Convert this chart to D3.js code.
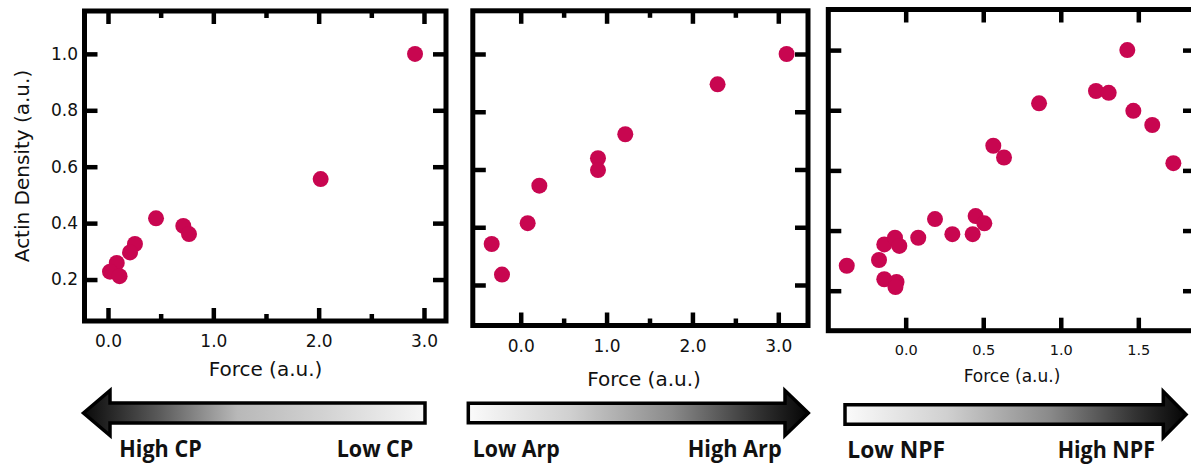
<!DOCTYPE html>
<html>
<head>
<meta charset="utf-8">
<script src="https://cdn.jsdelivr.net/npm/d3@7"></script>
<style>
  html, body { margin: 0; padding: 0; background: #fff; }
  svg { display: block; }
  .tick text { font-family: "DejaVu Sans", Verdana, sans-serif; fill: #111; }
</style>
</head>
<body>
<svg id="chart" width="1191" height="464"></svg>
<script>
// ---------- data ----------
const cpForce    = [2.915, 2.019, 0.456, 0.715, 0.769, 0.256, 0.209, 0.083, 0.019, 0.11];
const cpDensity  = [1.0, 0.556, 0.417, 0.390, 0.361, 0.326, 0.296, 0.259, 0.228, 0.212];

const arpForce   = [3.097, 2.293, 1.218, 0.9, 0.9, 0.217, 0.081, -0.338, -0.218];
const arpDensity = [1.0, 0.895, 0.722, 0.639, 0.598, 0.544, 0.414, 0.342, 0.236];

const npfForce   = [-0.380, -0.172, -0.138, -0.069, -0.041, -0.138, -0.059, -0.066, 0.081, 0.189,
                    0.301, 0.432, 0.451, 0.507, 0.565, 0.634, 0.860, 1.227, 1.309, 1.429,
                    1.468, 1.590, 1.726];
const npfDensity = [0.283, 0.302, 0.354, 0.376, 0.349, 0.238, 0.229, 0.212, 0.376, 0.438,
                    0.388, 0.388, 0.448, 0.424, 0.682, 0.643, 0.823, 0.864, 0.858, 1.0,
                    0.798, 0.751, 0.624];

const xTicks12   = [0, 1, 2, 3];
const xMinor12   = [0.5, 1.5, 2.5];
const xTicks3    = [0, 0.5, 1.0, 1.5];
const yTicks     = [0.2, 0.4, 0.6, 0.8, 1.0];

const yTitle = "Actin Density (a.u.)";
const xTitle = "Force (a.u.)";
const arrowLabels = [["High CP", "Low CP"], ["Low Arp", "High Arp"], ["Low NPF", "High NPF"]];

// ---------- drawing ----------
const svg = d3.select("#chart");
const dotColor = "#c80650";
const FONT = '"DejaVu Sans", Verdana, sans-serif';

const panels = [
  { fx: cpForce, fy: cpDensity, x0: 84.5, x1: 446, y0: 11, y1: 321,
    xd: [-0.2231, 3.209], yd: [0.053, 1.152], xt: xTicks12, xm: xMinor12, fmt: d3.format(".1f"),
    tickFont: 17, showY: true, title: { x: 265.5, y: 376, size: 20 } },
  { fx: arpForce, fy: arpDensity, x0: 472.8, x1: 808, y0: 10.8, y1: 325.5,
    xd: [-0.558, 3.346], yd: [0.0597, 1.1496], xt: xTicks12, xm: xMinor12, fmt: d3.format(".1f"),
    tickFont: 17, showY: false, title: { x: 644, y: 386, size: 20 } },
  { fx: npfForce, fy: npfDensity, x0: 828.3, x1: 1196, y0: 9.5, y1: 330.7,
    xd: [-0.499, 1.872], yd: [0.067, 1.135], xt: xTicks3, xm: [], fmt: d3.format(".1f"),
    tickFont: 14.5, showY: false, title: { x: 1012, y: 382, size: 17 } }
];

const TICK = 13, MINOR = 7, TW = 4.5, FW = 5;

panels.forEach((p, i) => {
  const x = d3.scaleLinear().domain(p.xd).range([p.x0, p.x1]);
  const y = d3.scaleLinear().domain(p.yd).range([p.y1, p.y0]);
  const g = svg.append("g");

  g.append("g").attr("transform", `translate(0,${p.y1})`)
    .call(d3.axisBottom(x).tickValues(p.xt).tickFormat(p.fmt).tickSize(-TICK).tickPadding(14));
  g.append("g").attr("transform", `translate(0,${p.y1})`)
    .call(d3.axisBottom(x).tickValues(p.xm).tickFormat("").tickSize(-MINOR));
  g.append("g").attr("transform", `translate(0,${p.y0})`)
    .call(d3.axisTop(x).tickValues(p.xt).tickFormat("").tickSize(-TICK));
  g.append("g").attr("transform", `translate(0,${p.y0})`)
    .call(d3.axisTop(x).tickValues(p.xm).tickFormat("").tickSize(-MINOR));
  g.append("g").attr("transform", `translate(${p.x0},0)`)
    .call(d3.axisLeft(y).tickValues(yTicks).tickFormat(p.showY ? d3.format(".1f") : "")
      .tickSize(-TICK).tickPadding(6.5));
  g.append("g").attr("transform", `translate(${p.x1},0)`)
    .call(d3.axisRight(y).tickValues(yTicks).tickFormat("").tickSize(-TICK));

  g.selectAll(".domain").remove();
  g.selectAll(".tick line").attr("stroke", "#000").attr("stroke-width", TW);
  g.selectAll(".tick text").attr("font-size", p.tickFont).attr("fill", "#111");

  g.append("rect")
    .attr("x", p.x0).attr("y", p.y0)
    .attr("width", p.x1 - p.x0).attr("height", p.y1 - p.y0)
    .attr("fill", "none").attr("stroke", "#000").attr("stroke-width", FW);

  g.append("g").selectAll("circle")
    .data(p.fx.map((v, k) => [v, p.fy[k]]))
    .join("circle")
    .attr("cx", d => x(d[0])).attr("cy", d => y(d[1]))
    .attr("r", 8).attr("fill", dotColor);

  g.append("text").attr("x", p.title.x).attr("y", p.title.y)
    .attr("text-anchor", "middle").attr("font-family", FONT)
    .attr("font-size", p.title.size).attr("fill", "#111").text(xTitle);
});

svg.append("text")
  .attr("transform", "translate(29,166) rotate(-90)")
  .attr("text-anchor", "middle").attr("font-family", FONT)
  .attr("font-size", 20).attr("fill", "#111").text(yTitle);

// ---------- arrows ----------
const defs = svg.append("defs");
function grad(id, x1, x2, stops) {
  const lg = defs.append("linearGradient").attr("id", id)
    .attr("gradientUnits", "userSpaceOnUse")
    .attr("x1", x1).attr("x2", x2).attr("y1", 0).attr("y2", 0);
  stops.forEach(s => lg.append("stop").attr("offset", s[0]).attr("stop-color", s[1]));
}
grad("g1", 84, 425, [[0, "#0a0a0a"], [0.22, "#5a5a5a"], [0.45, "#b8b8b8"], [0.7, "#d2d2d2"], [1, "#f6f6f6"]]);
grad("g2", 468, 808, [[0, "#fbfbfb"], [0.3, "#d0d0d0"], [0.6, "#8a8a8a"], [0.85, "#333"], [1, "#050505"]]);
grad("g3", 845, 1186, [[0, "#fbfbfb"], [0.3, "#d0d0d0"], [0.6, "#8a8a8a"], [0.85, "#333"], [1, "#050505"]]);

const arrows = [
  { tip: 83.5, base: 110, tail: 425, cy: 413, sh: 10, hh: 22.5, fill: "url(#g1)",
    lx: 119.3, rx: 413.3, ly: 457, w: [82.4, 76.6] },
  { tip: 808.3, base: 785, tail: 468.3, cy: 413, sh: 9.7, hh: 22.5, fill: "url(#g2)",
    lx: 472.7, rx: 781.7, ly: 457, w: [87, 94] },
  { tip: 1186, base: 1163.3, tail: 845, cy: 414.5, sh: 9.7, hh: 23, fill: "url(#g3)",
    lx: 847.3, rx: 1155, ly: 458, w: [97.7, 97.3] }
];
const line = d3.line();
arrows.forEach((a, i) => {
  const pts = [
    [a.tip, a.cy], [a.base, a.cy - a.hh], [a.base, a.cy - a.sh], [a.tail, a.cy - a.sh],
    [a.tail, a.cy + a.sh], [a.base, a.cy + a.sh], [a.base, a.cy + a.hh]
  ];
  svg.append("path").attr("d", line(pts) + "Z")
    .attr("fill", a.fill).attr("stroke", "#000").attr("stroke-width", 3.5)
    .attr("stroke-linejoin", "miter");
  const labs = arrowLabels[i];
  svg.append("text").attr("x", a.lx).attr("y", a.ly)
    .attr("font-family", '"Open Sans", Lato, sans-serif').attr("font-weight", "bold")
    .attr("font-size", 23).attr("fill", "#111")
    .attr("textLength", a.w[0]).attr("lengthAdjust", "spacingAndGlyphs").text(labs[0]);
  svg.append("text").attr("x", a.rx - a.w[1]).attr("y", a.ly)
    .attr("font-family", '"Open Sans", Lato, sans-serif').attr("font-weight", "bold")
    .attr("font-size", 23).attr("fill", "#111")
    .attr("textLength", a.w[1]).attr("lengthAdjust", "spacingAndGlyphs").text(labs[1]);
});
</script>
</body>
</html>
